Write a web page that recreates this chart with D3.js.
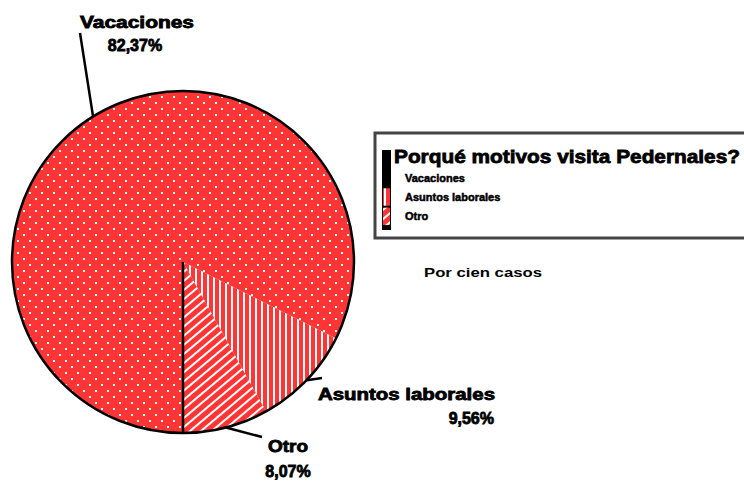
<!DOCTYPE html>
<html>
<head>
<meta charset="utf-8">
<script src="https://cdn.jsdelivr.net/npm/d3@7"></script>
<style>
  body { margin: 0; background: #fff; }
  text { font-family: "Liberation Sans", Arial, sans-serif; font-weight: bold; }
  text.heavy { stroke: #000; stroke-width: 0.8; }
</style>
</head>
<body>
<script>
var categories = ["Vacaciones", "Asuntos laborales", "Otro"];
var values = [82.37, 9.56, 8.07];
var valueLabels = ["82,37%", "9,56%", "8,07%"];
var patterns = ["dots", "vstripes", "diag"];
var title = "Porqué motivos visita Pedernales?";
var note = "Por cien casos";

var w = 744;
var h = 482;
var cx = 183, cy = 262, r = 171;
var red = "#FF3535";

var svg = d3.select("body")
            .append("svg")
            .attr("width", w)
            .attr("height", h);

var defs = svg.append("defs");

// white dots on red
var pd = defs.append("pattern").attr("id", "dots")
  .attr("patternUnits", "userSpaceOnUse").attr("width", 12).attr("height", 12);
pd.append("rect").attr("width", 12).attr("height", 12).attr("fill", red);
pd.append("rect").attr("x", 2).attr("y", 2).attr("width", 2).attr("height", 2).attr("fill", "#fff");
pd.append("rect").attr("x", 8).attr("y", 8).attr("width", 2).attr("height", 2).attr("fill", "#fff");

// vertical white stripes
var pv = defs.append("pattern").attr("id", "vstripes")
  .attr("patternUnits", "userSpaceOnUse").attr("width", 6).attr("height", 6);
pv.append("rect").attr("width", 6).attr("height", 6).attr("fill", red);
pv.append("rect").attr("x", 0).attr("width", 2).attr("height", 6).attr("fill", "#fff");

// diagonal white stripes "/"
var pg = defs.append("pattern").attr("id", "diag")
  .attr("patternUnits", "userSpaceOnUse").attr("width", 7).attr("height", 7)
  .attr("patternTransform", "rotate(-40)");
pg.append("rect").attr("width", 7).attr("height", 7).attr("fill", red);
pg.append("rect").attr("width", 7).attr("height", 2).attr("fill", "#fff");

var pie = d3.pie().sort(null).startAngle(Math.PI).endAngle(3 * Math.PI);
var arcs = pie(values);
var arc = d3.arc().innerRadius(0).outerRadius(r);

var g = svg.append("g").attr("transform", "translate(" + cx + "," + cy + ")");

g.selectAll("path.slice")
  .data(arcs)
  .enter()
  .append("path")
  .attr("class", "slice")
  .attr("d", arc)
  .attr("fill", function(d, i) { return "url(#" + patterns[i] + ")"; });

g.append("circle").attr("r", r).attr("fill", "none").attr("stroke", "#000").attr("stroke-width", 2.5);
g.append("line").attr("x1", 0).attr("y1", 0).attr("x2", 0).attr("y2", r)
  .attr("stroke", "#000").attr("stroke-width", 2.5);

// labels and leader lines
var labelPos = [
  {x: 80, y: 28, px: 135, py: 51, pctAnchor: "middle", lx: 80, ly: 33, lw: 114},
  {x: 318, y: 400, px: 494, py: 424, pctAnchor: "end", lx: 322, ly: 378, lw: 177},
  {x: 268, y: 452, px: 288, py: 477, pctAnchor: "middle", lx: 262, ly: 437, lw: 40}
];

function edge(d) {
  var a = (d.startAngle + d.endAngle) / 2;
  return [cx + Math.sin(a) * r, cy - Math.cos(a) * r];
}

arcs.forEach(function(d, i) {
  var L = labelPos[i];
  svg.append("path")
    .attr("d", d3.line()([edge(d), [L.lx, L.ly]]))
    .attr("fill", "none").attr("stroke", "#000").attr("stroke-width", 2.5);

  svg.append("text")
    .attr("class", "heavy")
    .attr("x", L.x).attr("y", L.y)
    .attr("font-size", 16)
    .attr("textLength", L.lw)
    .attr("lengthAdjust", "spacingAndGlyphs")
    .text(categories[i]);
  svg.append("text")
    .attr("class", "heavy")
    .attr("x", L.px).attr("y", L.py)
    .attr("text-anchor", L.pctAnchor)
    .attr("font-size", 16)
    .text(valueLabels[i]);
});

// legend
var lg = svg.append("g");
lg.append("rect").attr("x", 375).attr("y", 133).attr("width", 400).attr("height", 105)
  .attr("fill", "#fff").attr("stroke", "#444").attr("stroke-width", 3);
lg.append("text").attr("class", "heavy").attr("x", 394).attr("y", 163).attr("font-size", 19)
  .attr("textLength", 346).attr("lengthAdjust", "spacingAndGlyphs").text(title);
lg.append("rect").attr("x", 382).attr("y", 150).attr("width", 9).attr("height", 80).attr("fill", "#000");

var rowY = d3.scaleBand().domain(categories).range([167, 227]).padding(0.1);
lg.selectAll("rect.sw")
  .data(categories)
  .enter()
  .append("rect")
  .attr("class", "sw")
  .attr("x", 383)
  .attr("y", function(d) { return rowY(d); })
  .attr("width", 7)
  .attr("height", rowY.bandwidth())
  .attr("fill", function(d, i) { return i === 0 ? "#000" : "url(#" + patterns[i] + ")"; });

lg.selectAll("text.item")
  .data(categories)
  .enter()
  .append("text")
  .attr("class", "item heavy")
  .attr("x", 405)
  .attr("y", function(d) { return rowY(d) + rowY.bandwidth() / 2 + 4; })
  .attr("font-size", 11)
  .style("stroke-width", 0.5)
  .text(function(d) { return d; });

svg.append("text").attr("x", 424).attr("y", 277).attr("font-size", 12)
  .attr("font-family", "DejaVu Sans Mono").attr("textLength", 118)
  .attr("lengthAdjust", "spacingAndGlyphs").text(note);
</script>
</body>
</html>
